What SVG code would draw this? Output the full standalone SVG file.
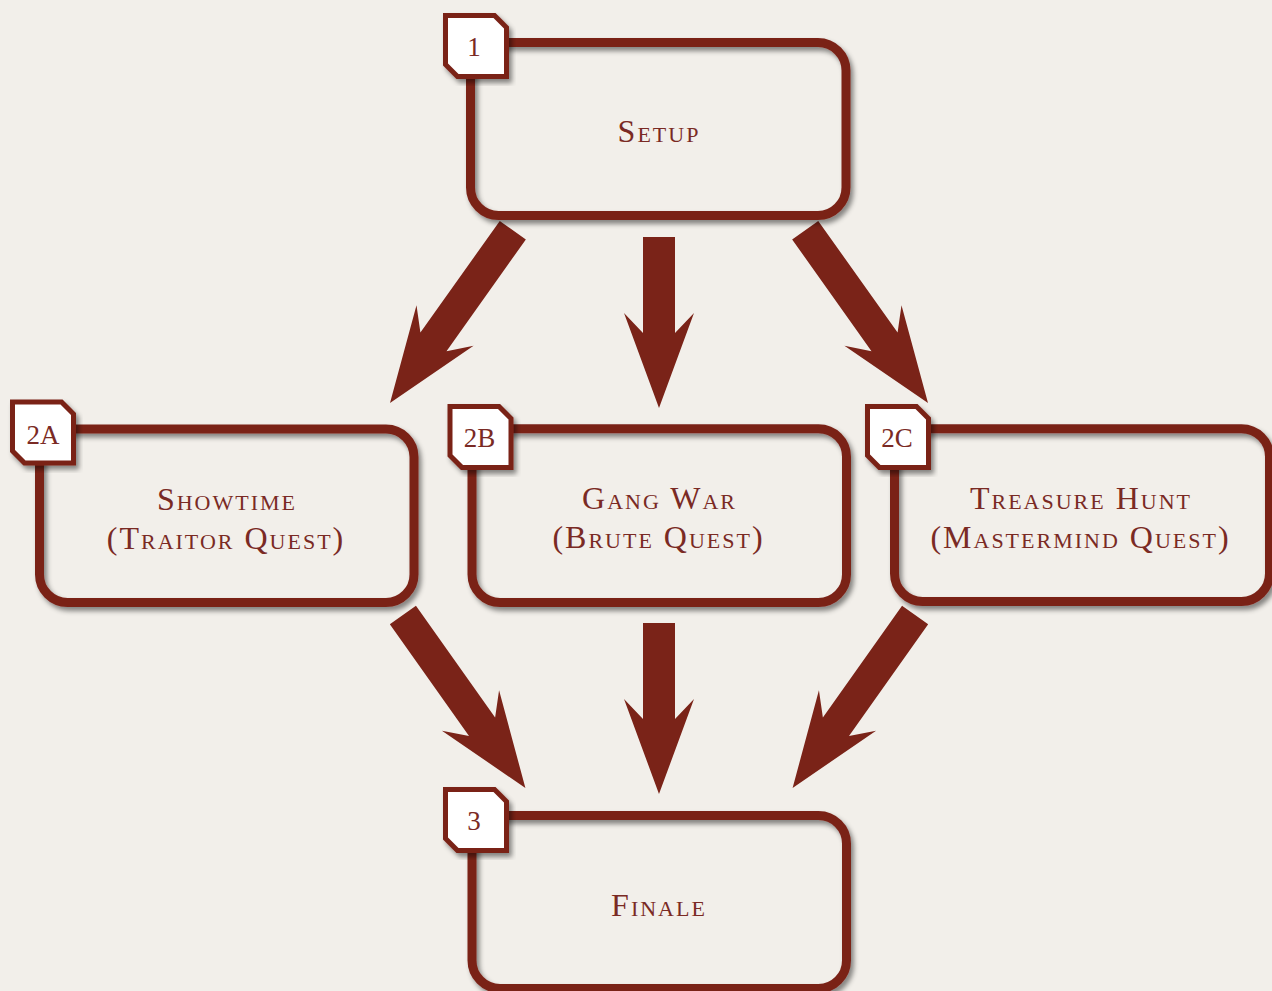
<svg xmlns="http://www.w3.org/2000/svg" xmlns:xlink="http://www.w3.org/1999/xlink" width="1272" height="991" viewBox="0 0 1272 991">
  <style>
    .box { fill: none; stroke: #7a2318; stroke-width: 9; filter: url(#shadow); }
    .badge { fill: #ffffff; stroke: #7a2318; stroke-width: 5; stroke-linejoin: miter; filter: url(#shadow); }
    .arrow { fill: #7a2318; }
    .title { font-family: "Liberation Serif", "Times New Roman", serif; font-size: 32px; font-variant: small-caps; letter-spacing: 2px; fill: #7a2a24; text-anchor: middle; }
    .num { font-family: "Liberation Serif", "Times New Roman", serif; font-size: 27px; fill: #7a2a24; text-anchor: middle; }
  </style>
  <defs>
    <filter id="shadow" x="-10%" y="-10%" width="125%" height="125%">
      <feDropShadow dx="3" dy="4" stdDeviation="2.5" flood-color="#000000" flood-opacity="0.45"/>
    </filter>
    <path id="arrowShort" class="arrow" d="M0 0 L35 -95 L16 -75 L16 -171 L-16 -171 L-16 -75 L-35 -95 Z"/>
    <path id="arrowLong" class="arrow" d="M0 0 L35 -95 L16 -75 L16 -212 L-16 -212 L-16 -75 L-35 -95 Z"/>
    <path id="badgeShape" d="M2.5 2.5 L51.5 2.5 L63.5 14.5 L63.5 63.5 L14.5 63.5 L2.5 51.5 Z"/>
  </defs>

  <rect x="0" y="0" width="1272" height="991" fill="#f2efea"/>

  <g id="connectors">
    <use xlink:href="#arrowLong" transform="translate(390 403) rotate(35.4)"/>
    <use xlink:href="#arrowShort" transform="translate(659 408)"/>
    <use xlink:href="#arrowLong" transform="translate(928 403) rotate(-35.4)"/>
    <use xlink:href="#arrowLong" transform="translate(525.4 788) rotate(-35.3)"/>
    <use xlink:href="#arrowShort" transform="translate(659 794)"/>
    <use xlink:href="#arrowLong" transform="translate(792.6 788) rotate(35.3)"/>
  </g>

  <g id="node-setup">
    <rect class="box" x="470.5" y="42.5" width="375.5" height="173" rx="28" ry="28"/>
    <use xlink:href="#badgeShape" class="badge" transform="translate(443 13)"/>
    <text class="num" x="474" y="56">1</text>
    <text class="title" x="659" y="142">Setup</text>
  </g>

  <g id="node-2a">
    <rect class="box" x="39.5" y="429" width="374.5" height="173.5" rx="28" ry="28"/>
    <use xlink:href="#badgeShape" class="badge" transform="translate(10 399.5)"/>
    <text class="num" x="43" y="443.5">2A</text>
    <text class="title" x="227" y="510">Showtime</text>
    <text class="title" x="226" y="548.5">(Traitor Quest)</text>
  </g>

  <g id="node-2b">
    <rect class="box" x="472" y="428.7" width="374.5" height="173.8" rx="28" ry="28"/>
    <use xlink:href="#badgeShape" class="badge" transform="translate(447.5 404)"/>
    <text class="num" x="479.5" y="447">2B</text>
    <text class="title" x="659.5" y="509">Gang War</text>
    <text class="title" x="658.5" y="548">(Brute Quest)</text>
  </g>

  <g id="node-2c">
    <rect class="box" x="894.5" y="428.7" width="375" height="172.8" rx="28" ry="28"/>
    <use xlink:href="#badgeShape" class="badge" transform="translate(865 404)"/>
    <text class="num" x="897" y="447">2C</text>
    <text class="title" x="1081" y="509">Treasure Hunt</text>
    <text class="title" x="1080.5" y="548">(Mastermind Quest)</text>
  </g>

  <g id="node-3">
    <rect class="box" x="472" y="815.5" width="374.5" height="173" rx="28" ry="28"/>
    <use xlink:href="#badgeShape" class="badge" transform="translate(443 787)"/>
    <text class="num" x="474" y="829.5">3</text>
    <text class="title" x="659" y="916">Finale</text>
  </g>
</svg>
